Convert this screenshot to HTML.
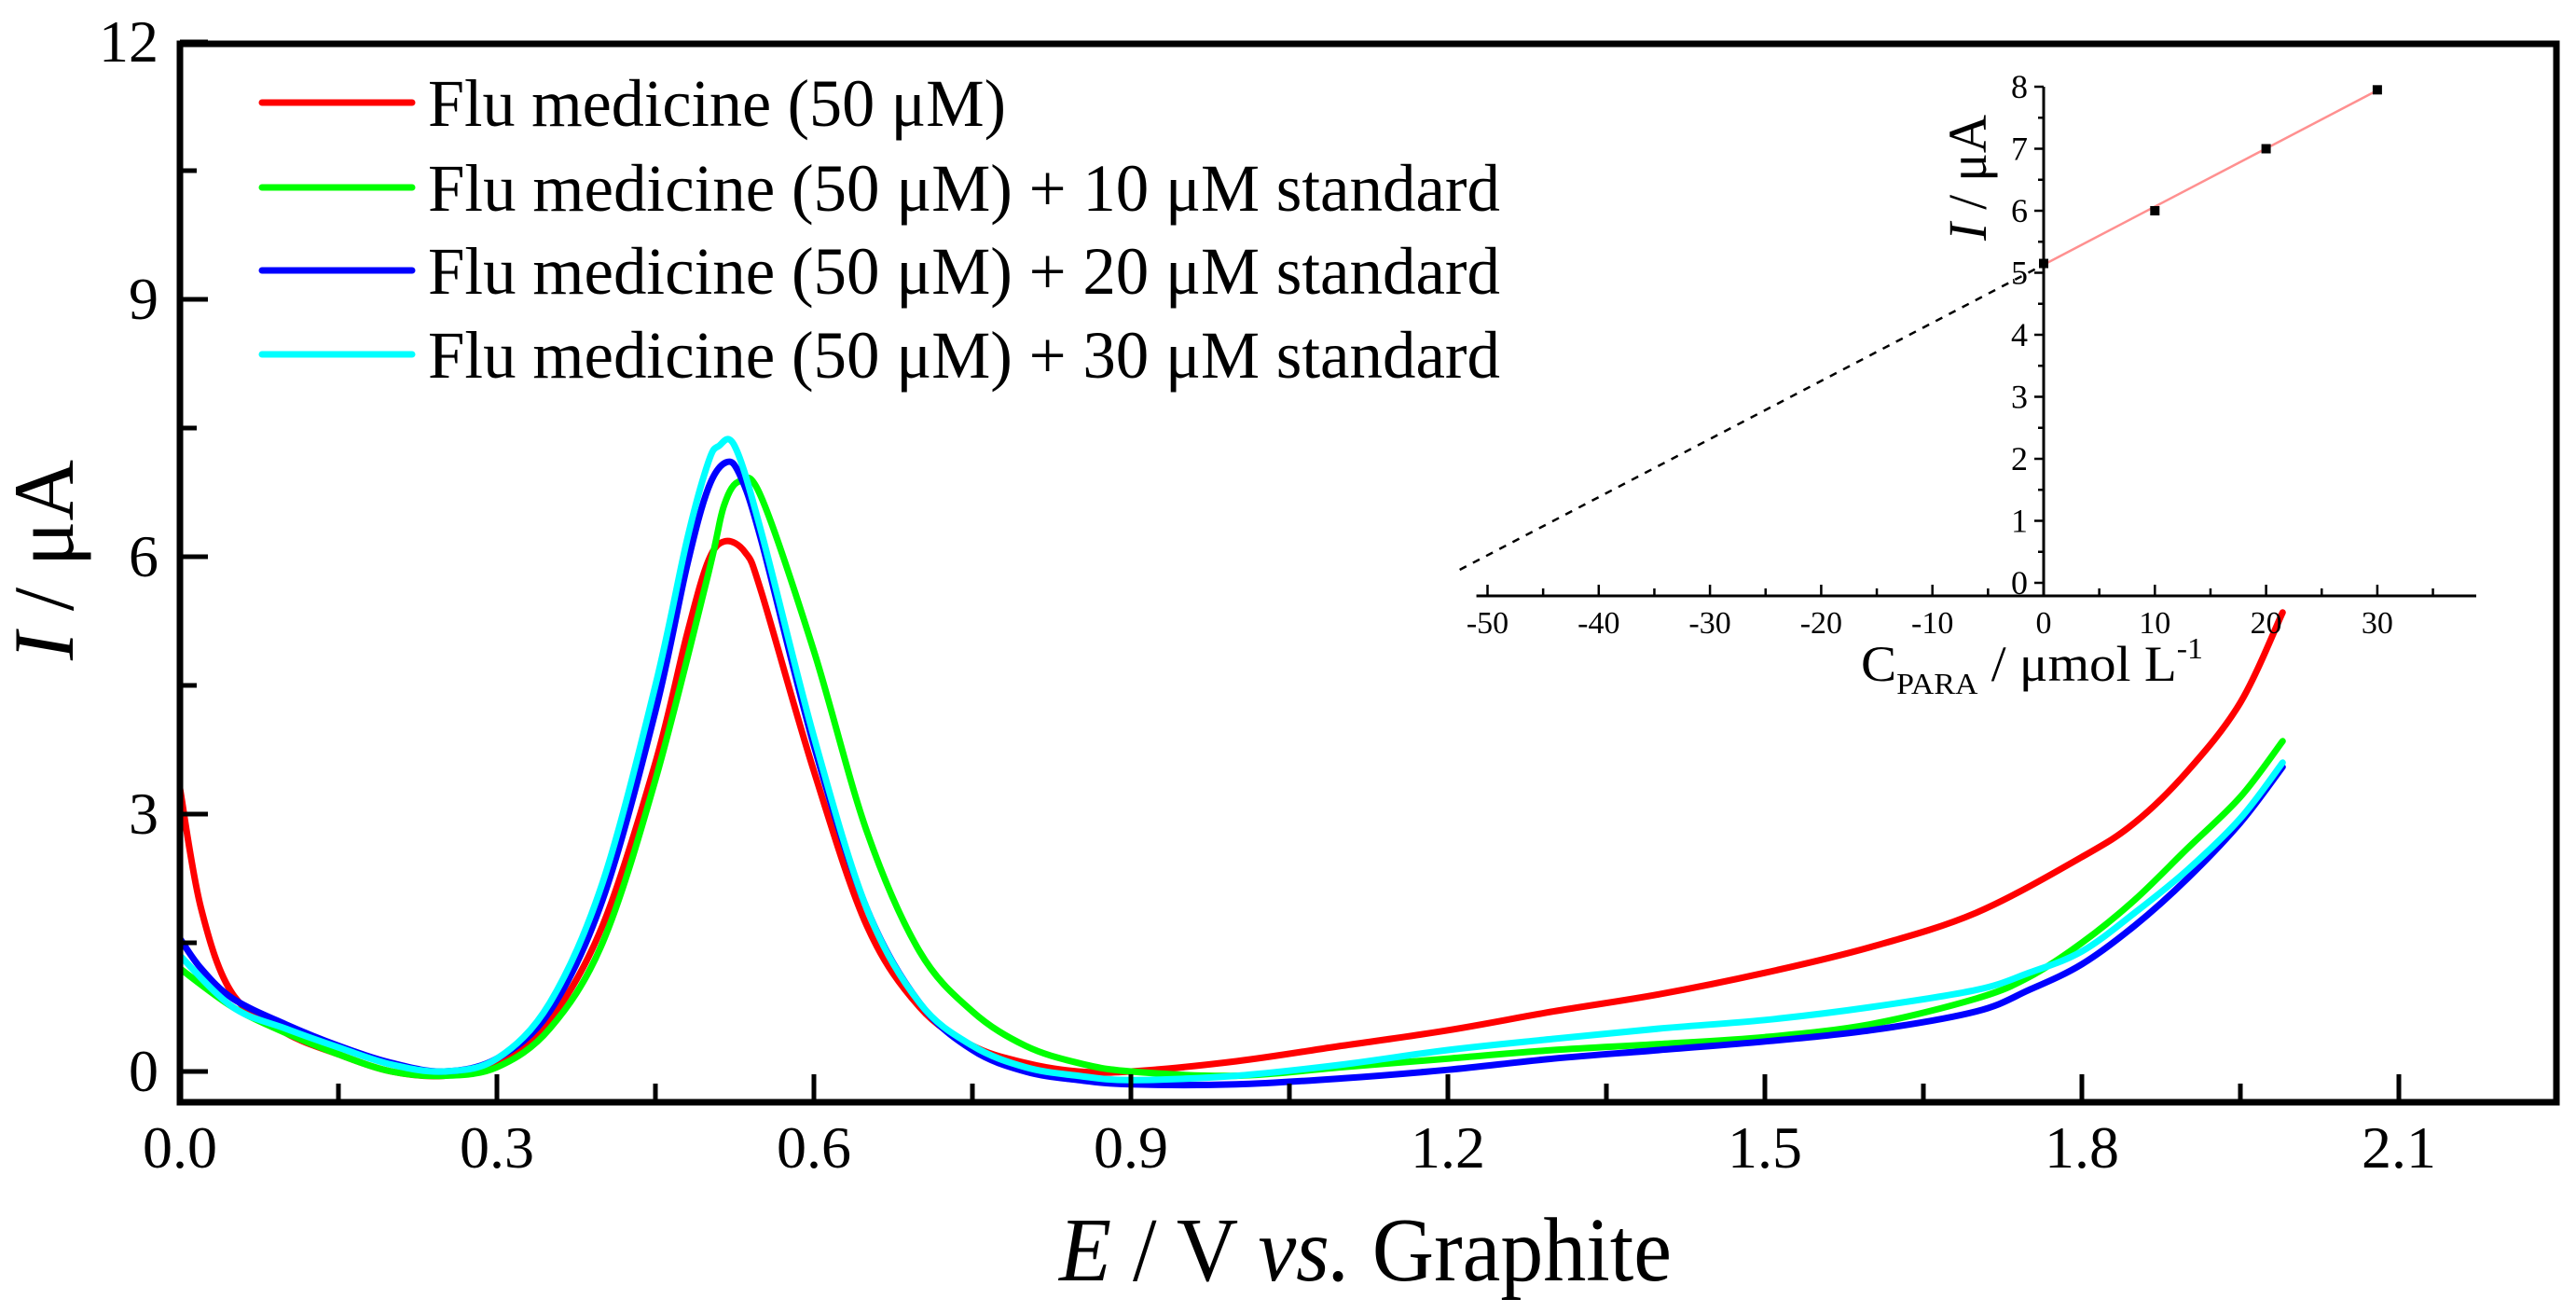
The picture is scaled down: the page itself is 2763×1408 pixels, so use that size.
<!DOCTYPE html>
<html><head><meta charset="utf-8"><style>
html,body{margin:0;padding:0;background:#fff;}
svg{display:block;font-family:"Liberation Serif",serif;}
text{font-family:"Liberation Serif",serif;}
</style></head><body>
<svg id="chart" width="2763" height="1408" viewBox="0 0 2763 1408" xmlns="http://www.w3.org/2000/svg">
<g id="main"></g>
<g id="inset"></g>
</svg>
<script>
// ---- main chart data ----
const seriesNames = ["Flu medicine (50 μM)","Flu medicine (50 μM) + 10 μM standard","Flu medicine (50 μM) + 20 μM standard","Flu medicine (50 μM) + 30 μM standard"];
const seriesColors = ["#ff0000","#00ff00","#0000ff","#00ffff"];
const redE = [0,0.02,0.05,0.1,0.15,0.2,0.25,0.3,0.35,0.4,0.45,0.48,0.5,0.516,0.535,0.55,0.6,0.65,0.7,0.75,0.8,0.85,0.9,1.0,1.1,1.2,1.3,1.4,1.5,1.6,1.7,1.8,1.85,1.9,1.95,1.99];
const redI = [3.3,1.9,0.9,0.45,0.2,0.0,-0.05,0.1,0.6,1.7,3.6,5.1,5.95,6.18,6.05,5.6,3.5,1.7,0.75,0.3,0.1,0.0,0.0,0.12,0.3,0.48,0.7,0.9,1.15,1.45,1.85,2.5,2.9,3.5,4.3,5.35];
const greenE = [0,0.05,0.1,0.15,0.2,0.25,0.3,0.35,0.4,0.45,0.5,0.515,0.53,0.55,0.6,0.65,0.7,0.75,0.8,0.85,0.9,1.0,1.1,1.2,1.3,1.4,1.5,1.6,1.7,1.75,1.8,1.85,1.9,1.95,1.99];
const greenI = [1.2,0.75,0.45,0.2,0.0,-0.05,0.05,0.5,1.5,3.4,5.8,6.6,6.88,6.7,4.9,2.8,1.4,0.7,0.3,0.1,0.0,-0.05,0.05,0.15,0.25,0.32,0.4,0.55,0.85,1.1,1.5,2.0,2.6,3.2,3.85];
const blueE = [0,0.02,0.05,0.1,0.15,0.2,0.25,0.3,0.35,0.4,0.45,0.48,0.5,0.517,0.53,0.55,0.6,0.65,0.7,0.75,0.8,0.85,0.9,1.0,1.1,1.2,1.3,1.4,1.5,1.6,1.7,1.75,1.8,1.85,1.9,1.95,1.99];
const blueI = [1.55,1.2,0.85,0.55,0.3,0.1,0.0,0.15,0.7,2.0,4.2,5.9,6.8,7.1,6.95,6.2,3.8,1.9,0.8,0.25,0.0,-0.1,-0.15,-0.15,-0.08,0.02,0.15,0.25,0.35,0.48,0.7,0.95,1.25,1.7,2.25,2.9,3.55];
const cyanE = [0,0.05,0.1,0.15,0.2,0.25,0.3,0.35,0.4,0.45,0.48,0.5,0.51,0.525,0.55,0.6,0.65,0.7,0.75,0.8,0.85,0.9,1.0,1.1,1.2,1.3,1.4,1.5,1.6,1.7,1.75,1.8,1.85,1.9,1.95,1.99];
const cyanI = [1.35,0.75,0.5,0.28,0.08,0.0,0.15,0.8,2.2,4.5,6.2,7.1,7.29,7.29,6.3,3.9,1.9,0.8,0.3,0.05,-0.05,-0.1,-0.05,0.08,0.25,0.38,0.5,0.6,0.75,0.95,1.15,1.4,1.85,2.35,2.95,3.6];
const xTicks = [0,0.3,0.6,0.9,1.2,1.5,1.8,2.1];
const xTickLabels = ["0.0","0.3","0.6","0.9","1.2","1.5","1.8","2.1"];
const yTicks = [0,3,6,9,12];
const yTickLabels = ["0","3","6","9","12"];
// ---- inset data ----
const insetConc = [0,10,20,30];
const insetCurrent = [5.15,6.0,7.0,7.95];
const insetXTicks = [-50,-40,-30,-20,-10,0,10,20,30];
const insetXLabels = ["-50","-40","-30","-20","-10","0","10","20","30"];
const insetYTicks = [0,1,2,3,4,5,6,7,8];
const insetYLabels = ["0","1","2","3","4","5","6","7","8"];
const fitSlope = 0.0937, fitIntercept = 5.13;

const NS="http://www.w3.org/2000/svg";
const FF='"Liberation Serif", serif';
function mk(parent,tag,attrs,text){const e=document.createElementNS(NS,tag);for(const k in attrs)e.setAttribute(k,attrs[k]);if(tag==='text')e.setAttribute('font-family',FF);if(text!==undefined)e.textContent=text;parent.appendChild(e);return e;}

// main axes
const L=193,R=2742,T=47,B=1182;
const x=v=>193+v*(2573-193)/2.1;
const y=v=>1149-v*92;
const main=document.getElementById('main');
function smooth(pts){let d=`M${pts[0][0]},${pts[0][1]}`;for(let i=0;i<pts.length-1;i++){const p0=pts[Math.max(0,i-1)],p1=pts[i],p2=pts[i+1],p3=pts[Math.min(pts.length-1,i+2)];const c1=[p1[0]+(p2[0]-p0[0])/6,p1[1]+(p2[1]-p0[1])/6],c2=[p2[0]-(p3[0]-p1[0])/6,p2[1]-(p3[1]-p1[1])/6];d+=` C${c1[0].toFixed(1)},${c1[1].toFixed(1)} ${c2[0].toFixed(1)},${c2[1].toFixed(1)} ${p2[0].toFixed(1)},${p2[1].toFixed(1)}`;}return d;}
const allE=[redE,greenE,blueE,cyanE],allI=[redI,greenI,blueI,cyanI];
const curveNames=['curve-flu-medicine','curve-plus-10uM','curve-plus-20uM','curve-plus-30uM'];
const cg=mk(main,'g',{});


for(let s=0;s<4;s++){
  const pts=allE[s].map((e,i)=>[x(e),y(allI[s][i])]);
  const p=mk(cg,'path',{d:smooth(pts),fill:'none',stroke:seriesColors[s],'stroke-width':7,'stroke-linejoin':'round','stroke-linecap':'round'});
  
  
}
const frame=mk(main,'rect',{x:L,y:T,width:R-L,height:B-T,fill:'none',stroke:'#000','stroke-width':7});


for(let v=0;v<=2.2;v+=0.15){const xv=x(v);const major=Math.abs(v/0.3-Math.round(v/0.3))<0.01;
  const t=mk(main,'line',{x1:xv,x2:xv,y1:B,y2:B-(major?30:20),stroke:'#000','stroke-width':5});
  
  }
xTicks.forEach((v,i)=>{const t=mk(main,'text',{x:x(v),y:1252,'font-size':64,'text-anchor':'middle'},xTickLabels[i]);
  
  });
for(let v=0;v<=12;v+=1.5){const yv=y(v);const major=v%3===0;
  const t=mk(main,'line',{x1:L,x2:L+(major?30:18),y1:yv,y2:yv,stroke:'#000','stroke-width':5});
  
  }
yTicks.forEach((v,i)=>{const t=mk(main,'text',{x:170,y:y(v)+21,'font-size':64,'text-anchor':'end'},yTickLabels[i]);
  
  });
const xt=mk(main,'text',{x:1136,y:1373,'font-size':98,textLength:657,lengthAdjust:'spacingAndGlyphs'});
xt.innerHTML='<tspan font-style="italic">E</tspan> / V <tspan font-style="italic">vs.</tspan> Graphite';


const yt=mk(main,'text',{transform:'translate(78,708) rotate(-90)','font-size':92,textLength:215,lengthAdjust:'spacingAndGlyphs'});
yt.innerHTML='<tspan font-style="italic">I</tspan> / μA';


// legend
const legY=[110,201,290,380],legW=[620,1150,1150,1150];
const lg=mk(main,'g',{});


for(let s=0;s<4;s++){
  const en=mk(lg,'g',{});
  
  
  mk(en,'line',{x1:281,x2:442,y1:legY[s],y2:legY[s],stroke:seriesColors[s],'stroke-width':7,'stroke-linecap':'round'});
  mk(en,'text',{x:459,y:legY[s]+25,'font-size':72,textLength:legW[s],lengthAdjust:'spacingAndGlyphs'},seriesNames[s]);
}
// inset
const inset=document.getElementById('inset');
const ix=v=>2192+v*11.93;
const iy=v=>625-v*66.5;
const ixAxisY=639;
const dash=mk(inset,'line',{x1:ix(-52.5),y1:iy(fitIntercept+fitSlope*-52.5),x2:ix(0),y2:iy(fitIntercept),stroke:'#000','stroke-width':2.5,'stroke-dasharray':'8 8'});


const fit=mk(inset,'line',{x1:ix(0),y1:iy(fitIntercept),x2:ix(30),y2:iy(fitIntercept+fitSlope*30),stroke:'#ff9090','stroke-width':2.5});


const ax=mk(inset,'line',{x1:ix(-51),x2:2656,y1:ixAxisY,y2:ixAxisY,stroke:'#000','stroke-width':3});


const ay=mk(inset,'line',{x1:ix(0),x2:ix(0),y1:iy(8),y2:ixAxisY,stroke:'#000','stroke-width':3});


for(let v=-50;v<=35;v+=5){const major=v%10===0;
  const t=mk(inset,'line',{x1:ix(v),x2:ix(v),y1:ixAxisY,y2:ixAxisY-(major?12:8),stroke:'#000','stroke-width':2.5});
  
  }
insetXTicks.forEach((v,i)=>{const t=mk(inset,'text',{x:ix(v),y:679,'font-size':34,'text-anchor':'middle'},insetXLabels[i]);
  
  });
for(let v=0;v<=8;v+=0.5){const major=v%1===0;
  const t=mk(inset,'line',{x1:ix(0),x2:ix(0)-(major?10:6),y1:iy(v),y2:iy(v),stroke:'#000','stroke-width':2.5});
  
  }
insetYTicks.forEach((v,i)=>{const t=mk(inset,'text',{x:2175,y:iy(v)+12,'font-size':36,'text-anchor':'end'},insetYLabels[i]);
  
  });
insetConc.forEach((c,i)=>{const p=mk(inset,'rect',{x:ix(c)-5,y:iy(insetCurrent[i])-5,width:10,height:10,fill:'#000'});
  
  });
const ixt=mk(inset,'text',{x:1996,y:730,'font-size':54,textLength:367,lengthAdjust:'spacingAndGlyphs'});
ixt.innerHTML='C<tspan font-size="32" dy="14">PARA</tspan><tspan dy="-14"> / μmol L</tspan><tspan font-size="32" dy="-24">-1</tspan>';


const iyt=mk(inset,'text',{transform:'translate(2130,258) rotate(-90)','font-size':58,textLength:135,lengthAdjust:'spacingAndGlyphs'});
iyt.innerHTML='<tspan font-style="italic">I</tspan> / μA';


</script>
</body></html>
